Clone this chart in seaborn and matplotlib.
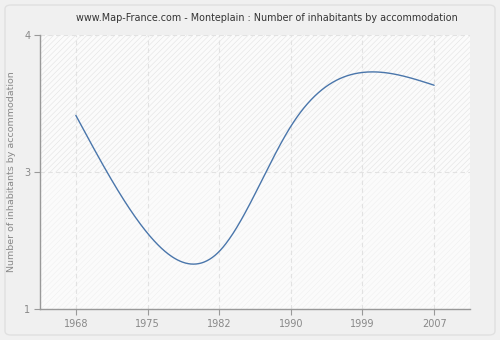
import numpy as np
import pandas as pd
import matplotlib
matplotlib.use("Agg")
import matplotlib.pyplot as plt
from matplotlib.patches import FancyBboxPatch, Rectangle
import seaborn as sns

years = ["1968", "1975", "1982", "1990", "1999", "2007"]
values = [3.12, 1.83, 1.63, 3.0, 3.59, 3.45]
ytick_vals = [1, 2.5, 4]
ytick_labels = ["1", "3", "4"]
title = "www.Map-France.com - Monteplain : Number of inhabitants by accommodation"
ylabel = "Number of inhabitants by accommodation"


def natural_spline(x, y, xs):
    x = np.asarray(x, float); y = np.asarray(y, float)
    n = len(x)
    h = np.diff(x)
    A = np.zeros((n, n)); b = np.zeros(n)
    A[0, 0] = 1; A[-1, -1] = 1
    for i in range(1, n - 1):
        A[i, i - 1] = h[i - 1]
        A[i, i] = 2 * (h[i - 1] + h[i])
        A[i, i + 1] = h[i]
        b[i] = 3 * ((y[i + 1] - y[i]) / h[i] - (y[i] - y[i - 1]) / h[i - 1])
    c = np.linalg.solve(A, b)
    out = np.empty_like(xs)
    for k, xv in enumerate(xs):
        i = min(max(np.searchsorted(x, xv) - 1, 0), n - 2)
        dx = xv - x[i]
        bb = (y[i + 1] - y[i]) / h[i] - h[i] * (2 * c[i] + c[i + 1]) / 3
        d = (c[i + 1] - c[i]) / (3 * h[i])
        out[k] = y[i] + bb * dx + c[i] * dx ** 2 + d * dx ** 3
    return out


sns.set_style("white")
plt.rcParams["font.family"] = ["DejaVu Sans"]
plt.rcParams["hatch.linewidth"] = 0.4

fig = plt.figure(figsize=(5, 3.4), dpi=100)
fig.patch.set_facecolor("#f0f0f0")
border = FancyBboxPatch((5 / 500, 5 / 340), 490 / 500, 330 / 340,
                        boxstyle="round,pad=0,rounding_size=0.012",
                        transform=fig.transFigure, facecolor="#f0f0f0",
                        edgecolor="#e0e0e0", linewidth=1.0, zorder=-10)
fig.add_artist(border)

ax = fig.add_axes([40 / 500, 1 - 309 / 340, 430 / 500, 274 / 340])
ax.set_zorder(5)
ax.set_facecolor("#fbfbfb")

xpos = np.arange(len(years))
xs = np.linspace(0, len(years) - 1, 400)
ys = natural_spline(xpos, values, xs)
df = pd.DataFrame({"x": xs, "y": ys})

ax.add_patch(Rectangle((-0.5, 2.5), 6, 1.5, facecolor="none", edgecolor="#e3e3e3",
                       hatch="//////", linewidth=0, zorder=0))
ax.add_patch(Rectangle((-0.5, 1), 6, 1.5, facecolor="none", edgecolor="#f0f0f0",
                       hatch="//////", linewidth=0, zorder=0))

sns.lineplot(data=df, x="x", y="y", ax=ax, color="#4a76ab", linewidth=1.0, zorder=3)

ax.set_xlim(-0.5, 5.5)
ax.set_ylim(1, 4)
ax.set_xticks(xpos)
ax.set_xticklabels(years)
ax.set_yticks(ytick_vals)
ax.set_yticklabels(ytick_labels)
ax.grid(True, color="#e2e2e2", linestyle=(0, (4, 3)), linewidth=0.8)
ax.set_axisbelow(True)
for s in ["top", "right"]:
    ax.spines[s].set_visible(False)
for s in ["left", "bottom"]:
    ax.spines[s].set_color("#999999")
    ax.spines[s].set_linewidth(1.0)
ax.tick_params(axis="both", which="major", bottom=True, left=True, colors="#999999",
               labelcolor="#888888", labelsize=7, length=4, width=0.8, direction="out", pad=3)
ax.set_xlabel("")
ax.set_ylabel(ylabel, fontsize=6.8, color="#888888")
ax.yaxis.set_label_coords(-0.055, 0.5)

fig.text(267 / 500, 1 - 18 / 340, title, ha="center", va="center", fontsize=6.9, color="#333333")

fig.savefig("out.png", dpi=100, facecolor=fig.get_facecolor())
